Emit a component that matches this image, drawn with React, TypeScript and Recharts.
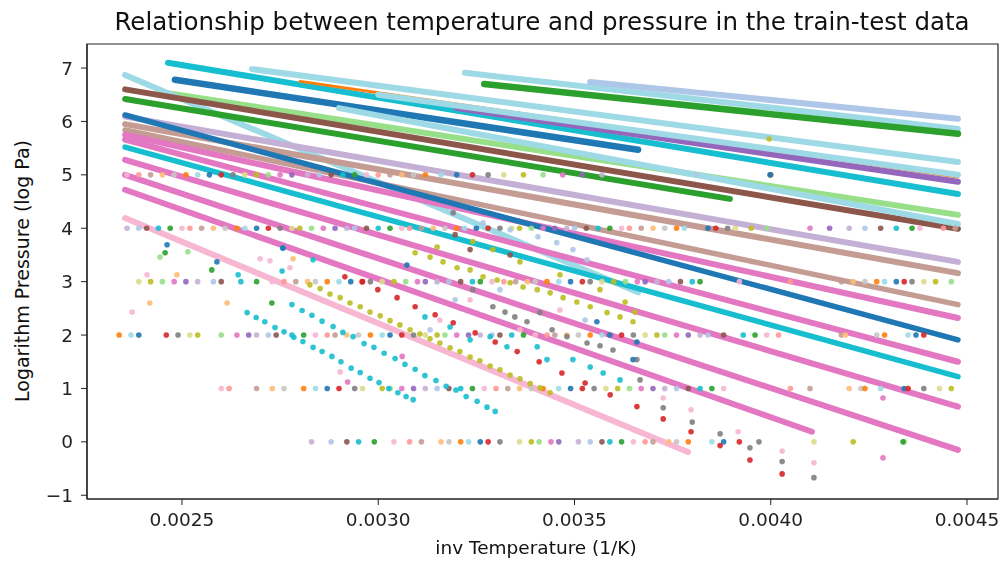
import React from 'react';
import { ScatterChart, Scatter, XAxis, YAxis, ReferenceArea } from 'recharts';

// axis setup
const xTicks = [0.0025, 0.003, 0.0035, 0.004, 0.0045];
const yTicks = [-1, 0, 1, 2, 3, 4, 5, 6, 7];
const X_DOMAIN: [number, number] = [0.002258, 0.004579];
const Y_DOMAIN: [number, number] = [-1.07, 7.45];

// vapour pressure lines: start / end of each one
const lineStartX = [0.002464, 0.003221, 0.00354, 0.00327, 0.002678, 0.002801, 0.0032, 0.003, 0.002482, 0.002444, 0.002355, 0.002355, 0.002355, 0.0029, 0.002355, 0.002355, 0.002355, 0.002355, 0.002355, 0.002355, 0.002355, 0.002355, 0.002355, 0.002355, 0.002355];
const lineStartY = [7.1, 6.91, 6.74, 6.7, 6.98, 6.75, 6.25, 6.5, 6.78, 6.55, 6.87, 6.6, 6.42, 6.25, 6.09, 5.95, 5.84, 5.75, 6.12, 5.52, 5.66, 5.28, 5.0, 4.72, 4.19];
const lineEndX = [0.004477, 0.004477, 0.004477, 0.004477, 0.004477, 0.004477, 0.004477, 0.004477, 0.003662, 0.004477, 0.003662, 0.004477, 0.003896, 0.004477, 0.004477, 0.004477, 0.004477, 0.004477, 0.004477, 0.004477, 0.004477, 0.004477, 0.004477, 0.004105, 0.003789];
const lineEndY = [4.64, 5.86, 6.05, 5.77, 5.24, 4.96, 4.87, 5.0, 5.47, 4.25, 2.8, 3.99, 4.55, 4.08, 3.37, 3.16, 2.57, 2.32, 1.91, 1.22, 1.5, 0.66, -0.15, 0.19, -0.19];
const lineColors = ['#17becf', '#9edae5', '#aec7e8', '#2ca02c', '#9edae5', '#ff7f0e', '#9467bd', '#9edae5', '#1f77b4', '#98df8a', '#9edae5', '#8c564b', '#2ca02c', '#9edae5', '#c5b0d5', '#c49c94', '#c49c94', '#e377c2', '#1f77b4', '#17becf', '#e377c2', '#e377c2', '#e377c2', '#e377c2', '#f7b6d2'];
const lineWidths = [6, 6, 6, 6.5, 6, 3, 6, 6, 6.5, 6, 6, 6, 6, 6, 6, 6, 5.5, 6, 5.5, 5.5, 6, 6, 6, 6, 6];

// rows of points sitting at whole log-pressure values
const bandLevels = [5, 4, 3, 2, 1, 0];
const band5X = [0.00236, 0.00239, 0.00242, 0.00245, 0.00248, 0.00251, 0.00254, 0.00257, 0.0026, 0.00263, 0.00266, 0.00269, 0.00272, 0.00275, 0.00278, 0.00282, 0.00285, 0.00288, 0.00291, 0.00294, 0.00297, 0.003, 0.00303, 0.00306, 0.00309, 0.00312, 0.00316, 0.0032, 0.00324, 0.00328, 0.00332, 0.00337, 0.00342, 0.00347, 0.00352, 0.00357, 0.00381, 0.004];
const band4X = [0.00236, 0.00239, 0.00241, 0.00244, 0.00247, 0.0025, 0.00252, 0.00255, 0.00258, 0.00261, 0.00264, 0.00266, 0.00269, 0.00272, 0.00275, 0.00278, 0.0028, 0.00283, 0.00286, 0.00289, 0.00292, 0.00294, 0.00297, 0.003, 0.00303, 0.00306, 0.00308, 0.00311, 0.00314, 0.00317, 0.0032, 0.00322, 0.00325, 0.00328, 0.00331, 0.00334, 0.00336, 0.00339, 0.00342, 0.00345, 0.00348, 0.0035, 0.00353, 0.00356, 0.00359, 0.00362, 0.00364, 0.00367, 0.0037, 0.00373, 0.00376, 0.00378, 0.00384, 0.00386, 0.00389, 0.00391, 0.00395, 0.00399, 0.0041, 0.00415, 0.0042, 0.00424, 0.00428, 0.00432, 0.00436, 0.00438, 0.00444, 0.00447];
const band3X = [0.00239, 0.00242, 0.00245, 0.00248, 0.00251, 0.00254, 0.00258, 0.0026, 0.00265, 0.00269, 0.00273, 0.00276, 0.00279, 0.00282, 0.00284, 0.00287, 0.0029, 0.00293, 0.00296, 0.00298, 0.00301, 0.00304, 0.00307, 0.0031, 0.00312, 0.00315, 0.00318, 0.00321, 0.00324, 0.00326, 0.00329, 0.00332, 0.00335, 0.00338, 0.0034, 0.00343, 0.00346, 0.00349, 0.00352, 0.00354, 0.00357, 0.0036, 0.00363, 0.00366, 0.00368, 0.00371, 0.00374, 0.00377, 0.0038, 0.00382, 0.00392, 0.00405, 0.00418, 0.00421, 0.00424, 0.00427, 0.00429, 0.00432, 0.00434, 0.00436, 0.00439, 0.00442, 0.00446];
const band2X = [0.00234, 0.00237, 0.00239, 0.00246, 0.00249, 0.00252, 0.00254, 0.0026, 0.00264, 0.00267, 0.00269, 0.00272, 0.00274, 0.00278, 0.00281, 0.00284, 0.00287, 0.00289, 0.00292, 0.00295, 0.00298, 0.00301, 0.00303, 0.00306, 0.00309, 0.00312, 0.00315, 0.00317, 0.0032, 0.00323, 0.00326, 0.00329, 0.00331, 0.00334, 0.00337, 0.0034, 0.00343, 0.00345, 0.00348, 0.00351, 0.00354, 0.00357, 0.00359, 0.00362, 0.00365, 0.00368, 0.00371, 0.00373, 0.00376, 0.00379, 0.00382, 0.00384, 0.00388, 0.00393, 0.00396, 0.00399, 0.00402, 0.00418, 0.00419, 0.00427, 0.00429, 0.00435, 0.00437, 0.00439];
const band1X = [0.0026, 0.00262, 0.00269, 0.00273, 0.00276, 0.00281, 0.00284, 0.00287, 0.0029, 0.00294, 0.00296, 0.00301, 0.00303, 0.00306, 0.00309, 0.00312, 0.00315, 0.00318, 0.00321, 0.00324, 0.00327, 0.0033, 0.00333, 0.00336, 0.00339, 0.00342, 0.00346, 0.00349, 0.00352, 0.00355, 0.00358, 0.00361, 0.00364, 0.00367, 0.0037, 0.00373, 0.00376, 0.00379, 0.00382, 0.00385, 0.00388, 0.00405, 0.0041, 0.0042, 0.00423, 0.00424, 0.00428, 0.00434, 0.00435, 0.00439, 0.00443, 0.00446];
const band0X = [0.00283, 0.00288, 0.00292, 0.00295, 0.00299, 0.00304, 0.00308, 0.00311, 0.00316, 0.00318, 0.00321, 0.00323, 0.00326, 0.00328, 0.00331, 0.00336, 0.00339, 0.00341, 0.00344, 0.00346, 0.00351, 0.00354, 0.00357, 0.00359, 0.00362, 0.00365, 0.00368, 0.0037, 0.00374, 0.00376, 0.00379, 0.00385, 0.00388, 0.00392, 0.00397, 0.00411, 0.00421, 0.00434];
const bandXs = [band5X, band4X, band3X, band2X, band1X, band0X];

// loose points, [inv T, log P]
const redPts = [[0.002915, 3.09], [0.002959, 3.0], [0.002999, 2.85], [0.003048, 2.7], [0.003094, 2.53], [0.003145, 2.38], [0.003191, 2.23], [0.003247, 2.04], [0.003298, 1.87], [0.003354, 1.69], [0.00341, 1.5], [0.003468, 1.29], [0.003527, 1.1], [0.003591, 0.88], [0.003659, 0.66], [0.003726, 0.43], [0.003797, 0.19], [0.003871, -0.07], [0.003947, -0.34], [0.004029, -0.6]];
const greyPts = [[0.003191, 4.29], [0.003241, 2.85], [0.003292, 2.53], [0.003323, 2.43], [0.003348, 2.34], [0.003379, 2.25], [0.003412, 2.42], [0.003443, 2.1], [0.003481, 1.97], [0.003532, 1.85], [0.003565, 1.8], [0.003598, 1.72], [0.003659, 1.54], [0.003667, 1.16], [0.003726, 0.64], [0.0038, 0.37], [0.003871, 0.15], [0.003947, -0.11], [0.004029, -0.37], [0.00411, -0.67]];
const lightPinkPts = [[0.003726, 0.82], [0.003797, 0.6], [0.003917, 0.19], [0.004029, -0.17], [0.00411, -0.39], [0.002373, 2.43], [0.002411, 3.13], [0.002699, 3.43], [0.002724, 3.39], [0.002775, 3.26], [0.002903, 1.31], [0.003157, 2.28], [0.003234, 2.66], [0.003361, 2.1], [0.003463, 2.47]];
const pinkPts = [[0.004286, 0.82], [0.004286, -0.3], [0.002922, 1.12], [0.003061, 1.6]];
const cyanPts = [[0.002666, 2.42], [0.002689, 2.33], [0.002711, 2.25], [0.002737, 2.14], [0.00276, 2.06], [0.002785, 1.96], [0.002808, 1.88], [0.002834, 1.77], [0.002857, 1.69], [0.002882, 1.6], [0.002905, 1.5], [0.002931, 1.38], [0.002954, 1.3], [0.002979, 1.19], [0.003002, 1.11], [0.003027, 1.0], [0.00305, 0.92], [0.003071, 0.85], [0.003089, 0.79],
  [0.00278, 2.57], [0.002806, 2.46], [0.002831, 2.37], [0.002857, 2.26], [0.002885, 2.16], [0.00291, 2.05], [0.002936, 1.97], [0.002964, 1.84], [0.002989, 1.77], [0.003015, 1.66], [0.003043, 1.56], [0.003068, 1.45], [0.003094, 1.36], [0.003119, 1.24], [0.003147, 1.15], [0.003173, 1.04], [0.003198, 0.97], [0.003224, 0.85], [0.003252, 0.76], [0.003277, 0.65], [0.003298, 0.57],
  [0.003119, 2.34], [0.003183, 2.15], [0.003234, 1.91], [0.003285, 1.97], [0.003328, 1.78], [0.003405, 1.78], [0.00343, 1.54], [0.003496, 1.54], [0.00354, 1.4], [0.003573, 1.29], [0.003616, 1.16], [0.002755, 3.2], [0.002834, 3.41], [0.002643, 3.13], [0.002757, 3.63]];
const olivePts = [[0.003094, 3.54], [0.003132, 3.46], [0.003165, 3.37], [0.003201, 3.26], [0.003234, 3.22], [0.003267, 3.09], [0.003303, 3.03], [0.003336, 2.98], [0.003369, 2.9], [0.003405, 2.85], [0.003438, 2.79], [0.003471, 2.7], [0.003506, 2.62], [0.00354, 2.53], [0.003583, 2.42], [0.003616, 2.34], [0.003649, 2.25], [0.00315, 3.65], [0.003241, 3.75], [0.003292, 3.6], [0.003361, 3.37], [0.003463, 3.13], [0.003565, 2.85], [0.003629, 2.62], [0.003654, 2.43], [0.003996, 5.67],
  [0.002826, 2.94], [0.002852, 2.87], [0.002877, 2.77], [0.002903, 2.7], [0.002928, 2.6], [0.002954, 2.53], [0.002979, 2.43], [0.003005, 2.36], [0.00303, 2.27], [0.003055, 2.19], [0.003081, 2.1], [0.003106, 2.02], [0.003132, 1.93], [0.003157, 1.85], [0.003183, 1.76], [0.003208, 1.69], [0.003234, 1.59], [0.003259, 1.52], [0.003285, 1.42], [0.00331, 1.35], [0.003336, 1.25], [0.003361, 1.18], [0.003387, 1.09], [0.003412, 1.01], [0.003438, 0.92]];
const lightBluePts = [[0.003191, 4.29], [0.003267, 4.1], [0.003336, 3.97], [0.003407, 3.84], [0.003455, 3.73], [0.003496, 3.6], [0.003532, 3.41], [0.003196, 2.66], [0.00331, 2.85], [0.003132, 2.1], [0.003527, 2.28]];
const bluePts = [[0.002462, 3.69], [0.002589, 3.37], [0.002757, 3.63], [0.003073, 3.31], [0.003659, 1.87], [0.003649, 1.54], [0.003998, 5.0], [0.003557, 2.25]];
const greenPts = [[0.002457, 3.54], [0.002576, 3.22], [0.002729, 2.6], [0.004337, 0.0]];
const lightGreenPts = [[0.002515, 3.56], [0.002444, 3.46]];
const lightOrangePts = [[0.002783, 3.43], [0.002418, 2.6], [0.002615, 2.6], [0.002487, 3.13]];
const brownPts = [[0.003196, 3.88], [0.003234, 3.6], [0.003336, 3.5]];

const bandPalette = ['#f7b6d2', '#ffbb78', '#9edae5', '#7f7f7f', '#98df8a', '#c5b0d5', '#17becf', '#ff9896', '#c7c7c7', '#1f77b4', '#dbdb8d', '#e377c2', '#aec7e8', '#2ca02c', '#c49c94', '#ff7f0e', '#d62728', '#bcbd22', '#9467bd', '#8c564b'];

const looseSets = [
  { pts: lightBluePts, color: '#aec7e8' },
  { pts: lightPinkPts, color: '#f7b6d2' },
  { pts: olivePts, color: '#bcbd22' },
  { pts: cyanPts, color: '#17becf' },
  { pts: greyPts, color: '#7f7f7f' },
  { pts: redPts, color: '#d62728' },
  { pts: pinkPts, color: '#e377c2' },
  { pts: bluePts, color: '#1f77b4' },
  { pts: greenPts, color: '#2ca02c' },
  { pts: lightGreenPts, color: '#98df8a' },
  { pts: lightOrangePts, color: '#ffbb78' },
  { pts: brownPts, color: '#8c564b' },
];

const lineData = lineStartX.map((x0, i) => [
  { x: x0, y: lineStartY[i] },
  { x: lineEndX[i], y: lineEndY[i] },
]);

const bandData = bandXs.flatMap((xs, k) =>
  xs.map((x, i) => ({ x, y: bandLevels[k], c: bandPalette[(i * 7 + k * 5) % 20] }))
);

const noDot = () => <g />;

const Dot = (props: any) => {
  const { cx, cy, payload, fill } = props;
  if (cx == null || cy == null) return <g />;
  return <circle cx={cx} cy={cy} r={2.8} fill={payload?.c || fill} fillOpacity={0.9} />;
};

const font = 'DejaVu Sans, Liberation Sans, sans-serif';
const tickStyle = { fill: '#222', fontSize: 18.5, fontFamily: font };
const fmtY = (v: number) => (v < 0 ? `\u2212${-v}` : `${v}`);

const App: React.FC = () => {
  return (
    <div style={{ position: 'fixed', left: 0, top: 0, width: 1001, height: 561, background: '#fff', fontFamily: font }}>
      <div style={{ position: 'absolute', left: 0, width: 1084, top: 8, textAlign: 'center', fontSize: 24.5, lineHeight: '28px', color: '#111', whiteSpace: 'nowrap' }}>
        Relationship between temperature and pressure in the train-test data
      </div>
      <div style={{ position: 'absolute', left: 0, width: 1072, top: 537, textAlign: 'center', fontSize: 18.5, lineHeight: '22px', color: '#111' }}>
        inv Temperature (1/K)
      </div>
      <div style={{ position: 'absolute', left: 22, top: 271, width: 0, height: 0 }}>
        <div style={{ position: 'absolute', transform: 'translate(-50%, -50%) rotate(-90deg)', fontSize: 19, lineHeight: '22px', color: '#111', whiteSpace: 'nowrap' }}>
          Logarithm Pressure (log Pa)
        </div>
      </div>
      <ScatterChart width={1001} height={561} margin={{ top: 44, right: 3, left: 0, bottom: 0 }}>
        <XAxis
          type="number"
          dataKey="x"
          domain={X_DOMAIN}
          allowDataOverflow
          ticks={xTicks}
          interval={0}
          tickFormatter={(v: number) => v.toFixed(4)}
          height={62}
          tickSize={6}
          tickMargin={8}
          tick={tickStyle}
          axisLine={{ stroke: '#222', strokeWidth: 1.2 }}
          tickLine={{ stroke: '#222' }}
        />
        <YAxis
          type="number"
          dataKey="y"
          domain={Y_DOMAIN}
          allowDataOverflow
          ticks={yTicks}
          interval={0}
          tickFormatter={fmtY}
          width={87}
          tickSize={6}
          tickMargin={8}
          tick={tickStyle}
          axisLine={{ stroke: '#222', strokeWidth: 1.2 }}
          tickLine={{ stroke: '#222' }}
        />
        {lineData.map((d, i) => (
          <Scatter
            key={`l${i}`}
            data={d}
            isAnimationActive={false}
            shape={noDot}
            lineType="joint"
            line={{ stroke: lineColors[i], strokeWidth: lineWidths[i], strokeLinecap: 'round' }}
          />
        ))}
        <Scatter data={bandData} isAnimationActive={false} shape={<Dot />} fill="#999" />
        {looseSets.map((s, i) => (
          <Scatter
            key={`p${i}`}
            data={s.pts.map(([x, y]) => ({ x, y, c: s.color }))}
            isAnimationActive={false}
            shape={<Dot />}
            fill={s.color}
          />
        ))}
        <ReferenceArea
          x1={X_DOMAIN[0]}
          x2={X_DOMAIN[1]}
          y1={Y_DOMAIN[0]}
          y2={Y_DOMAIN[1]}
          fill="none"
          stroke="#222"
          strokeWidth={1.2}
          ifOverflow="visible"
        />
      </ScatterChart>
    </div>
  );
};

export default App;
